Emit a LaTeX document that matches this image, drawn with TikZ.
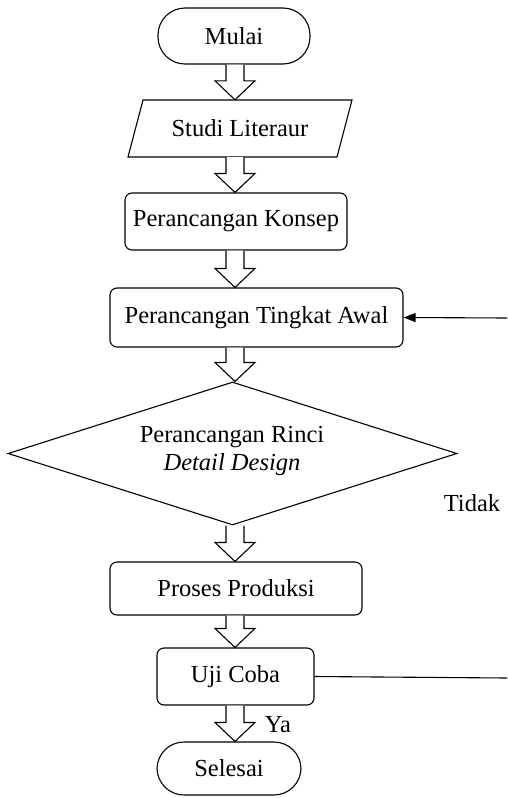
\documentclass[tikz,border=0pt]{standalone}
\usepackage{fontspec}
\setmainfont{Liberation Serif}
\usetikzlibrary{calc,shapes.geometric,arrows.meta}
\tikzset{
  base/.style={draw, line width=1.1pt, inner sep=0pt, font=\fontsize{24.5}{28.5}\selectfont},
  term/.style={base, rounded corners=27pt},
  proc/.style={base, rounded corners=7pt},
  plain/.style={inner sep=0pt, font=\fontsize{24.5}{28.5}\selectfont},
  blkarrow/.style={draw, line width=1.1pt, fill=white, line join=miter},
  fb/.style={line width=1.1pt},
}
\newcommand\blk[2]{%
  \draw[blkarrow] let \p1=(#1.south), \p2=(#2.north) in
   (226pt,\y1) -- (226pt,\y2+19pt) -- (215pt,\y2+19pt) -- (235pt,\y2)
   -- (255pt,\y2+19pt) -- (244pt,\y2+19pt) -- (244pt,\y1);}
\begin{document}
\begin{tikzpicture}[x=1pt,y=-1pt]
\useasboundingbox (0,0) rectangle (507,798);
\node[term, minimum width=152pt, minimum height=56pt] (mulai) at (234,36) {Mulai};
\node[plain, minimum width=210pt, minimum height=57pt] (studi) at (240,128.5) {Studi Literaur};
\draw[line width=1.1pt] (128,157) -- (143,100) -- (352,100) -- (337,157) -- cycle;
\node[proc, minimum width=222pt, minimum height=57pt] (konsep) at (236,221.5) {Perancangan Konsep};
\node[proc, minimum width=293pt, minimum height=59pt] (awal) at (256.5,317.5) {Perancangan Tingkat Awal};
\node[base, diamond, aspect=3.14, minimum width=449pt, minimum height=143pt] (rinci) at (232.5,453.5) {};
\node[plain, align=center] (rincitxt) at (232,451) {Perancangan Rinci\\\textit{Detail Design}};
\node[proc, minimum width=252pt, minimum height=53pt] (proses) at (236,588.5) {Proses Produksi};
\node[proc, minimum width=157pt, minimum height=57pt] (uji) at (235.5,676.5) {Uji Coba};
\node[term, minimum width=144pt, minimum height=53pt] (selesai) at (229,768.5) {Selesai};
\node[plain] (tidak) at (472,503) {Tidak};
\node[plain] (ya) at (278,725) {Ya};
\coordinate (inR) at (507,318);
\coordinate (outR) at (507,678);
\blk{mulai}{studi}
\blk{studi}{konsep}
\blk{konsep}{awal}
\blk{awal}{rinci}
\blk{rinci}{proses}
\blk{proses}{uji}
\blk{uji}{selesai}
\draw[fb, -{Triangle[length=12pt,width=9pt]}] (inR) -- (awal.east);
\draw[fb] (uji.east) -- (outR);
\end{tikzpicture}
\end{document}
